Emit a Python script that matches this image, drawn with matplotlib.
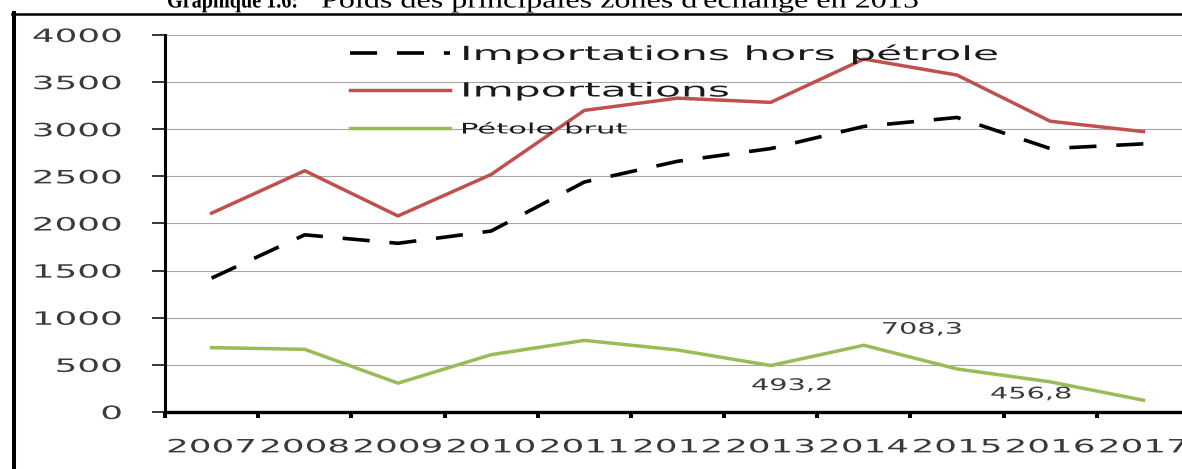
import matplotlib
matplotlib.use('Agg')
import matplotlib.pyplot as plt
import numpy as np
from matplotlib.legend import Legend
from matplotlib.lines import Line2D
from matplotlib.patheffects import AbstractPathEffect
from matplotlib.transforms import Affine2D

# Series (milliards), one value per year
years = ['2007', '2008', '2009', '2010', '2011', '2012',
         '2013', '2014', '2015', '2016', '2017']
hors_petrole = [1420, 1880, 1790, 1920, 2440, 2660, 2795, 3030, 3125, 2795, 2845]
importations = [2110, 2560, 2080, 2520, 3200, 3330, 3285, 3745, 3575, 3085, 2975]
petrole_brut = [683, 665, 306, 608, 760, 658, 493.2, 708.3, 456.8, 320, 125]

# Years whose crude-oil value is written on the chart
labelled_years = ['2013', '2014', '2015']
y_ticks = [0, 500, 1000, 1500, 2000, 2500, 3000, 3500, 4000]

W, H = 1182, 469


class HStretch(AbstractPathEffect):
    """Widen text horizontally around its left, centre or right edge."""

    def __init__(self, sx, anchor='left'):
        super().__init__()
        self.sx = sx
        self.anchor = anchor

    def draw_path(self, renderer, gc, tpath, affine, rgbFace=None):
        ext = tpath.get_extents()
        if self.anchor == 'center':
            x0 = (ext.x0 + ext.x1) / 2
        elif self.anchor == 'right':
            x0 = ext.x1
        else:
            x0 = 0
        pre = Affine2D().translate(-x0, 0).scale(self.sx, 1).translate(x0, 0)
        renderer.draw_path(gc, tpath, pre + affine, rgbFace)


def fx(px):
    return px / W


def fy(py):
    return 1 - py / H


def draw_frame(fig):
    # Page box around the chart, title above it
    fig.add_artist(Line2D([fx(12), fx(W + 5)], [fy(14.5), fy(14.5)],
                          transform=fig.transFigure, color='black', lw=1.8))
    fig.add_artist(Line2D([fx(14), fx(14)], [fy(13.5), fy(H + 5)],
                          transform=fig.transFigure, color='black', lw=2.9))
    t = fig.text(fx(167), fy(7.5), 'Graphique 1.6:', family='Liberation Serif',
                 weight='bold', fontsize=16.5, va='baseline', ha='left')
    t.set_path_effects([HStretch(0.88, 'left')])
    t = fig.text(fx(321), fy(7.5), "Poids des principales zones d'échange en 2015",
                 family='Liberation Serif', fontsize=17, va='baseline', ha='left')
    t.set_path_effects([HStretch(1.36, 'left')])


def add_legend_row(ax, fig, line, label, y_px, size, stretch):
    # One legend per row so each row sits at its own height
    leg = Legend(ax, [line], [label], loc='center left',
                 bbox_to_anchor=(fx(350), fy(y_px)),
                 bbox_transform=fig.transFigure, frameon=False,
                 fontsize=size, handlelength=72 / size, handletextpad=7.2 / size,
                 borderpad=0, borderaxespad=0)
    txt = leg.get_texts()[0]
    txt.set_color('#1a1a1a')
    txt.set_path_effects([HStretch(stretch, 'left')])
    ax.add_artist(leg)


def draw_chart(fig):
    ax = fig.add_axes([fx(165), fy(412), (1190 - 165) / W, (412 - 35) / H])
    x = np.arange(len(years))

    l1, = ax.plot(x, hors_petrole, color='black', lw=2.6, dashes=(7.5, 5.5),
                  zorder=3)
    l2, = ax.plot(x, importations, color='#c0504d', lw=2.5, zorder=3)
    l3, = ax.plot(x, petrole_brut, color='#9bbb59', lw=2.5, zorder=3)

    # Value labels on a few crude-oil points
    offsets = {'2013': (21, -20), '2014': (58, 16), '2015': (74, -25)}
    for yr in labelled_years:
        i = years.index(yr)
        v = petrole_brut[i]
        a = ax.annotate(f'{v:.1f}'.replace('.', ','), (i, v),
                        xytext=offsets[yr], textcoords='offset pixels',
                        ha='center', va='center', fontsize=11.5, color='#3a3a3a')
        a.set_path_effects([HStretch(1.8, 'center')])

    ax.set_xlim(-0.5, len(years) - 0.5)
    ax.set_ylim(0, 4000)

    ax.set_yticks(y_ticks)
    ax.yaxis.grid(True, color='#a6a6a6', lw=0.8)
    ax.set_axisbelow(True)
    ax.tick_params(axis='y', length=9.4, width=1.1, pad=21.6,
                   labelsize=13.2, labelcolor='#3a3a3a')
    for lbl in ax.get_yticklabels():
        lbl.set_path_effects([HStretch(1.95, 'right')])

    # Boundary ticks between years, labels centred under each year
    ax.set_xticks(np.arange(-0.5, len(years), 1.0))
    ax.set_xticklabels([])
    ax.set_xticks(x, years, minor=True)
    ax.tick_params(axis='x', which='major', length=4, width=2.9, direction='out')
    ax.tick_params(axis='x', which='minor', length=0, pad=19,
                   labelsize=13.2, labelcolor='#3a3a3a')
    for lbl in ax.get_xticklabels(minor=True):
        lbl.set_path_effects([HStretch(1.95, 'center')])

    for side in ('top', 'right'):
        ax.spines[side].set_visible(False)
    ax.spines['left'].set_linewidth(2.2)
    ax.spines['bottom'].set_linewidth(2.4)

    add_legend_row(ax, fig, l1, 'Importations hors pétrole', 54, 14, 2.18)
    add_legend_row(ax, fig, l2, 'Importations', 91, 14, 2.18)
    add_legend_row(ax, fig, l3, 'Pétole brut', 129, 10.5, 2.1)
    return ax


def main():
    fig = plt.figure(figsize=(W / 100, H / 100), dpi=100)
    draw_chart(fig)
    draw_frame(fig)
    fig.savefig('out.png', dpi=100)


if __name__ == '__main__':
    main()
